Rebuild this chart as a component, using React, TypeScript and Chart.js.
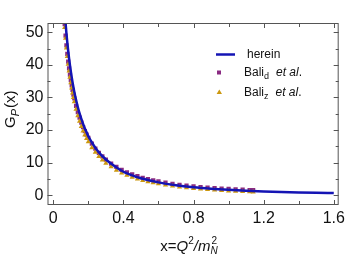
import React, { useEffect, useRef } from "react";
import { Chart, registerables } from "chart.js";

Chart.register(...registerables);

// Curve ("herein")
const curveX = [0.06, 0.065, 0.07, 0.075, 0.08, 0.085, 0.09, 0.095, 0.1, 0.11, 0.12, 0.13, 0.14, 0.15, 0.16, 0.17, 0.18, 0.19, 0.2, 0.22, 0.25, 0.3, 0.35, 0.4, 0.45, 0.5, 0.6, 0.7, 0.8, 0.9, 1.0, 1.1, 1.2, 1.3, 1.4, 1.5, 1.6];
const curveY = [60.0, 56.2, 52.8, 49.6, 46.8, 44.3, 42.0, 39.9, 38.0, 34.6, 31.7, 29.2, 27.0, 25.1, 23.4, 21.9, 20.5, 19.3, 18.1, 16.2, 13.8, 10.95, 8.9, 7.2, 6.1, 5.2, 3.95, 3.07, 2.45, 2.0, 1.66, 1.39, 1.17, 1.0, 0.86, 0.75, 0.66];

// Bali et al. data
const baliX = [0.065, 0.07, 0.075, 0.08, 0.085, 0.09, 0.095, 0.1, 0.105, 0.11, 0.115, 0.12, 0.13, 0.14, 0.15, 0.16, 0.17, 0.18, 0.19, 0.2, 0.22, 0.24, 0.26, 0.28, 0.3, 0.33, 0.36, 0.39, 0.42, 0.45, 0.48, 0.51, 0.54, 0.57, 0.6, 0.64, 0.68, 0.72, 0.76, 0.8, 0.84, 0.88, 0.92, 0.96, 1.0, 1.04, 1.08, 1.12, 1.14];
const baliD = [52.5, 49.0, 46.0, 43.4, 41.0, 38.9, 37.0, 35.3, 33.7, 32.3, 30.9, 29.7, 27.4, 25.5, 23.8, 22.3, 20.9, 19.7, 18.6, 17.6, 15.8, 14.3, 13.0, 11.9, 10.9, 9.7, 8.7, 7.8, 7.05, 6.4, 5.85, 5.35, 4.95, 4.55, 4.25, 3.85, 3.5, 3.2, 2.95, 2.72, 2.52, 2.35, 2.19, 2.05, 1.92, 1.8, 1.7, 1.6, 1.56];
const baliZ = [51.5, 48.2, 45.2, 42.6, 40.2, 38.1, 36.2, 34.5, 32.9, 31.4, 30.0, 28.7, 26.4, 24.4, 22.7, 21.1, 19.7, 18.5, 17.4, 16.4, 14.6, 13.2, 11.9, 10.8, 9.85, 8.7, 7.7, 6.85, 6.15, 5.55, 5.0, 4.55, 4.15, 3.8, 3.5, 3.12, 2.8, 2.52, 2.28, 2.07, 1.88, 1.72, 1.58, 1.45, 1.33, 1.23, 1.13, 1.05, 1.0];

const xMajor = [0, 0.4, 0.8, 1.2, 1.6];
const yMajor = [0, 10, 20, 30, 40, 50];

const BLUE = "#1414b4";
const PURPLE = "#8a2a82";
const ORANGE = "#cc980f";
const FONT = "'Liberation Sans', Arial, sans-serif";

const framePlugin = {
  id: "frame",
  afterDraw(chart: any) {
    const { ctx, chartArea: a, scales } = chart;
    const xs = scales.x;
    const ys = scales.y;
    ctx.save();
    ctx.strokeStyle = "#555";
    ctx.lineWidth = 1;
    ctx.strokeRect(a.left + 0.5, a.top + 0.5, a.right - a.left - 1, a.bottom - a.top - 1);
    xs.ticks.forEach((t: any) => {
      const px = Math.round(xs.getPixelForValue(t.value)) + 0.5;
      const major = xMajor.some((m) => Math.abs(m - t.value) < 1e-6);
      const len = major ? 5 : 4;
      ctx.beginPath();
      ctx.moveTo(px, a.bottom);
      ctx.lineTo(px, a.bottom - len);
      ctx.moveTo(px, a.top);
      ctx.lineTo(px, a.top + len);
      ctx.stroke();
    });
    ys.ticks.forEach((t: any) => {
      const py = Math.round(ys.getPixelForValue(t.value)) + 0.5;
      const major = yMajor.some((m) => Math.abs(m - t.value) < 1e-6);
      const len = major ? 5 : 3;
      ctx.beginPath();
      ctx.moveTo(a.left, py);
      ctx.lineTo(a.left + len, py);
      ctx.moveTo(a.right, py);
      ctx.lineTo(a.right - len, py);
      ctx.stroke();
    });

    ctx.fillStyle = "#111";
    ctx.textBaseline = "alphabetic";
    // Y title: G_P(x)
    ctx.save();
    ctx.translate(15, 128);
    ctx.rotate(-Math.PI / 2);
    ctx.textAlign = "left";
    let x = 0;
    ctx.font = `15px ${FONT}`;
    ctx.fillText("G", x, 0);
    x += ctx.measureText("G").width;
    ctx.font = `italic 11px ${FONT}`;
    ctx.fillText("P", x, 4);
    x += ctx.measureText("P").width + 1;
    ctx.font = `15px ${FONT}`;
    ctx.fillText("(x)", x, 0);
    ctx.restore();

    // X title: x=Q^2/m_N^2
    const parts: [string, string, number][] = [
      ["x=", `15px ${FONT}`, 0],
      ["Q", `italic 15px ${FONT}`, 0],
      ["2", `10px ${FONT}`, -7],
      ["/", `italic 15px ${FONT}`, 0],
      ["m", `italic 15px ${FONT}`, 0],
    ];
    let total = 0;
    parts.forEach(([s, f]) => {
      ctx.font = f;
      total += ctx.measureText(s).width;
    });
    ctx.font = `10px ${FONT}`;
    const supW = ctx.measureText("2").width;
    ctx.font = `italic 10px ${FONT}`;
    const subW = ctx.measureText("N").width;
    total += Math.max(supW, subW);
    let cx = 189 - total / 2;
    const by = 251;
    ctx.textAlign = "left";
    parts.forEach(([s, f, dy]) => {
      ctx.font = f;
      ctx.fillText(s, cx, by + dy);
      cx += ctx.measureText(s).width;
    });
    ctx.font = `10px ${FONT}`;
    ctx.fillText("2", cx + 1, by - 7);
    ctx.font = `italic 10px ${FONT}`;
    ctx.fillText("N", cx, by + 3);

    // Legend
    ctx.strokeStyle = BLUE;
    ctx.lineWidth = 2.5;
    ctx.beginPath();
    ctx.moveTo(216, 54.5);
    ctx.lineTo(235, 54.5);
    ctx.stroke();
    ctx.fillStyle = "#111";
    ctx.font = `12px ${FONT}`;
    ctx.textBaseline = "middle";
    ctx.fillText("herein", 247, 55);
    ctx.fillStyle = PURPLE;
    ctx.fillRect(217, 70.5, 4, 4);
    ctx.fillStyle = ORANGE;
    ctx.beginPath();
    ctx.moveTo(219.3, 89.5);
    ctx.lineTo(222, 94);
    ctx.lineTo(216.6, 94);
    ctx.closePath();
    ctx.fill();
    const drawBali = (sub: string, y: number) => {
      ctx.fillStyle = "#111";
      ctx.textBaseline = "middle";
      let lx = 244;
      ctx.font = `12px ${FONT}`;
      ctx.fillText("Bali", lx, y);
      lx += ctx.measureText("Bali").width;
      ctx.font = `9px ${FONT}`;
      ctx.fillText(sub, lx, y + 4);
      lx += ctx.measureText(sub).width + 7;
      ctx.font = `italic 12px ${FONT}`;
      ctx.fillText("et al", lx, y);
      lx += ctx.measureText("et al").width;
      ctx.font = `12px ${FONT}`;
      ctx.fillText(".", lx, y);
    };
    drawBali("d", 72.5);
    drawBali("z", 92.5);
    ctx.restore();
  },
};

export default function App() {
  const ref = useRef<HTMLCanvasElement | null>(null);
  useEffect(() => {
    document.body.style.margin = "0";
    if (!ref.current) return;
    const chart = new Chart(ref.current, {
      type: "scatter",
      data: {
        datasets: [
          {
            label: "herein",
            type: "line",
            data: curveX.map((x, i) => ({ x, y: curveY[i] })),
            borderColor: BLUE,
            borderWidth: 2.5,
            pointRadius: 0,
            cubicInterpolationMode: "monotone",
            fill: false,
          } as any,
          {
            label: "Bali_z et al.",
            data: baliX.map((x, i) => ({ x, y: baliZ[i] })),
            pointStyle: "triangle",
            pointRadius: 3,
            backgroundColor: ORANGE,
            borderColor: ORANGE,
            borderWidth: 0,
          },
          {
            label: "Bali_d et al.",
            data: baliX.map((x, i) => ({ x, y: baliD[i] })),
            pointStyle: "rect",
            pointRadius: 3,
            backgroundColor: PURPLE,
            borderColor: PURPLE,
            borderWidth: 0,
          },
        ],
      },
      options: {
        animation: false,
        responsive: false,
        layout: { padding: { left: 0, right: 6, top: 23, bottom: 0 } },
        plugins: { legend: { display: false }, tooltip: { enabled: false } },
        scales: {
          x: {
            type: "linear",
            min: -0.033,
            max: 1.628,
            grid: { display: false, drawTicks: false },
            border: { display: false },
            afterFit: (s: any) => {
              s.height = 52;
            },
            ticks: {
              stepSize: 0.2,
              includeBounds: false,
              padding: 4,
              color: "#111",
              font: { family: FONT, size: 16 },
              maxRotation: 0,
              autoSkip: false,
              callback: (v: any) => {
                const n = Number(v);
                return xMajor.some((m) => Math.abs(m - n) < 1e-6) ? String(Math.round(n * 10) / 10) : "";
              },
            },
          },
          y: {
            type: "linear",
            min: -3,
            max: 52.85,
            grid: { display: false, drawTicks: false },
            border: { display: false },
            afterFit: (s: any) => {
              s.width = 47.5;
            },
            ticks: {
              stepSize: 5,
              includeBounds: false,
              padding: 4,
              color: "#111",
              font: { family: FONT, size: 16 },
              autoSkip: false,
              callback: (v: any) => {
                const n = Math.round(Number(v));
                return n % 10 === 0 ? String(n) : "";
              },
            },
          },
        },
      },
      plugins: [framePlugin],
    });
    return () => chart.destroy();
  }, []);
  return (
    <div style={{ position: "fixed", left: 0, top: 0, width: 349, height: 257, background: "#fff" }}>
      <canvas ref={ref} width={349} height={257} style={{ width: 349, height: 257 }} />
    </div>
  );
}
